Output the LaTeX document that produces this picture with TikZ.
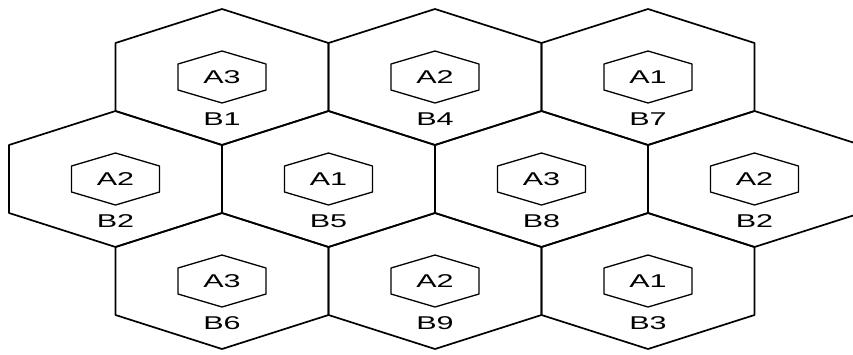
\documentclass[tikz,border=0pt]{standalone}
\usepackage{graphicx}
\usepackage{fontspec}
\setmainfont{Liberation Sans}
\newcommand\hstr[1]{\scalebox{1.65}[1]{#1}}
\tikzset{
  cell/.style={line width=1.7pt, line join=round},
  innerhex/.style={line width=1.3pt, line join=round},
  lbl/.style={font=\fontsize{18.5}{18.5}\selectfont, inner sep=0pt}
}
\begin{document}
\begin{tikzpicture}[x=1pt,y=-1pt]
\useasboundingbox (0,0) rectangle (853,354);
\clip (0,0) rectangle (853,354);
\fill[white] (0,0) rectangle (853,354);
\foreach \cx/\cy/\a/\b/\n in {
  222/77/A3/B1/1, 435/77/A2/B4/4, 648/77/A1/B7/7,
  115.5/179/A2/B2/2, 328.5/179/A1/B5/5, 541.5/179/A3/B8/8, 754.5/179/A2/B2/10,
  222/281/A3/B6/6, 435/281/A2/B9/9, 648/281/A1/B3/3} {
  \draw[cell] (\cx,\cy-68) -- (\cx+106.5,\cy-34) -- (\cx+106.5,\cy+34) -- (\cx,\cy+68)
    -- (\cx-106.5,\cy+34) -- (\cx-106.5,\cy-34) -- cycle;
  \draw[innerhex] (\cx,\cy-26) -- (\cx+44,\cy-13) -- (\cx+44,\cy+13) -- (\cx,\cy+26)
    -- (\cx-44,\cy+13) -- (\cx-44,\cy-13) -- cycle;
  \node[lbl] (a\n) at (\cx,\cy) {\hstr{\a}};
  \node[lbl] (b\n) at (\cx,\cy+42) {\hstr{\b}};
}
\end{tikzpicture}
\end{document}
